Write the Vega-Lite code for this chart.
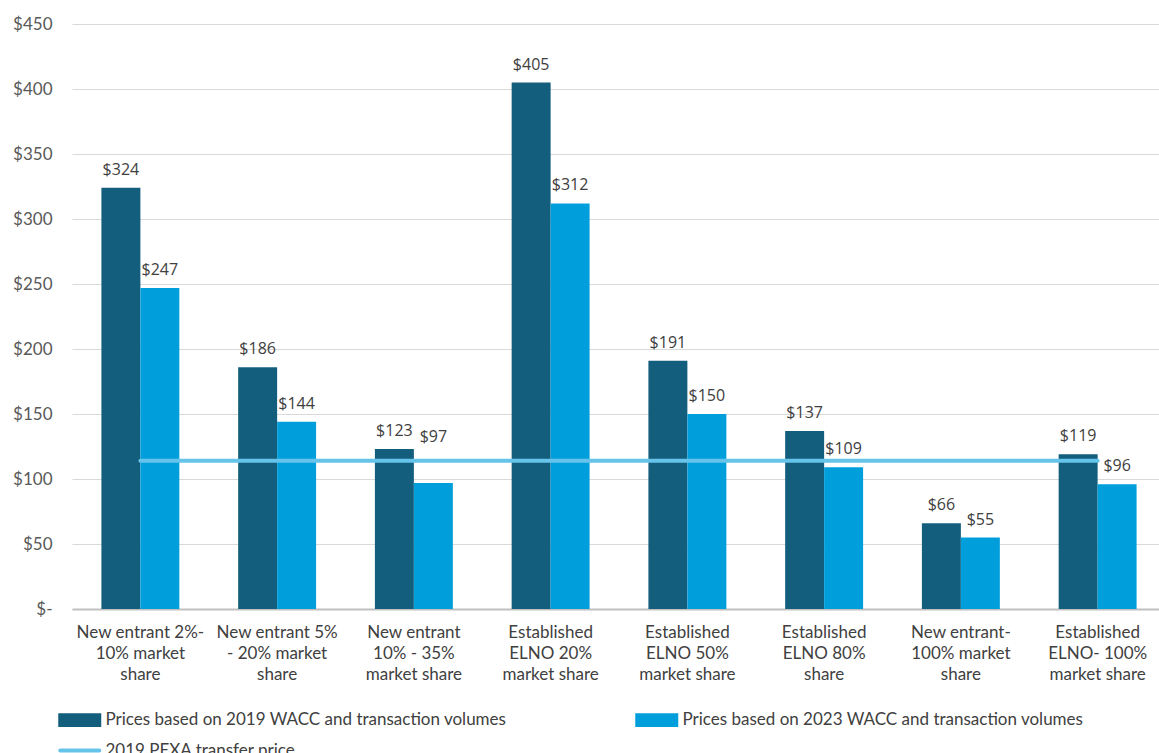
{
  "$schema": "https://vega.github.io/schema/vega-lite/v6.json",
  "autosize": {"type": "none"},
  "width": 1094,
  "height": 585,
  "padding": {"left": 72, "top": 24, "right": 0, "bottom": 144},
  "background": "white",
  "config": {"view": {"stroke": null}},
  "datasets": {
    "bars": [
      {"category": "New entrant 2%-\n10% market\nshare", "series": "Prices based on 2019 WACC and transaction volumes", "value": 324},
      {"category": "New entrant 2%-\n10% market\nshare", "series": "Prices based on 2023 WACC and transaction volumes", "value": 247},
      {"category": "New entrant 5%\n- 20% market\nshare", "series": "Prices based on 2019 WACC and transaction volumes", "value": 186},
      {"category": "New entrant 5%\n- 20% market\nshare", "series": "Prices based on 2023 WACC and transaction volumes", "value": 144},
      {"category": "New entrant\n10% - 35%\nmarket share", "series": "Prices based on 2019 WACC and transaction volumes", "value": 123},
      {"category": "New entrant\n10% - 35%\nmarket share", "series": "Prices based on 2023 WACC and transaction volumes", "value": 97},
      {"category": "Established\nELNO 20%\nmarket share", "series": "Prices based on 2019 WACC and transaction volumes", "value": 405},
      {"category": "Established\nELNO 20%\nmarket share", "series": "Prices based on 2023 WACC and transaction volumes", "value": 312},
      {"category": "Established\nELNO 50%\nmarket share", "series": "Prices based on 2019 WACC and transaction volumes", "value": 191},
      {"category": "Established\nELNO 50%\nmarket share", "series": "Prices based on 2023 WACC and transaction volumes", "value": 150},
      {"category": "Established\nELNO 80%\nshare", "series": "Prices based on 2019 WACC and transaction volumes", "value": 137},
      {"category": "Established\nELNO 80%\nshare", "series": "Prices based on 2023 WACC and transaction volumes", "value": 109},
      {"category": "New entrant-\n100% market\nshare", "series": "Prices based on 2019 WACC and transaction volumes", "value": 66},
      {"category": "New entrant-\n100% market\nshare", "series": "Prices based on 2023 WACC and transaction volumes", "value": 55},
      {"category": "Established\nELNO- 100%\nmarket share", "series": "Prices based on 2019 WACC and transaction volumes", "value": 119},
      {"category": "Established\nELNO- 100%\nmarket share", "series": "Prices based on 2023 WACC and transaction volumes", "value": 96}
    ],
    "pexa": [
      {"category": "New entrant 2%-\n10% market\nshare", "series": "2019 PEXA transfer price", "value": 114},
      {"category": "New entrant 5%\n- 20% market\nshare", "series": "2019 PEXA transfer price", "value": 114},
      {"category": "New entrant\n10% - 35%\nmarket share", "series": "2019 PEXA transfer price", "value": 114},
      {"category": "Established\nELNO 20%\nmarket share", "series": "2019 PEXA transfer price", "value": 114},
      {"category": "Established\nELNO 50%\nmarket share", "series": "2019 PEXA transfer price", "value": 114},
      {"category": "Established\nELNO 80%\nshare", "series": "2019 PEXA transfer price", "value": 114},
      {"category": "New entrant-\n100% market\nshare", "series": "2019 PEXA transfer price", "value": 114},
      {"category": "Established\nELNO- 100%\nmarket share", "series": "2019 PEXA transfer price", "value": 114}
    ]
  },
  "encoding": {
    "x": {
      "field": "category",
      "type": "nominal",
      "sort": null,
      "scale": {"paddingInner": 0.43, "paddingOuter": 0.215},
      "axis": {
        "title": null,
        "labelAngle": 0,
        "labelExpr": "split(datum.label, '\\n')",
        "labelFont": "Lato",
        "labelFontSize": 17,
        "labelColor": "#404040",
        "labelLineHeight": 21,
        "labelPadding": 15,
        "labelLimit": 0,
        "ticks": false,
        "domainColor": "#bfbfbf",
        "domainWidth": 2
      }
    },
    "y": {
      "field": "value",
      "type": "quantitative",
      "scale": {"domain": [0, 450], "nice": false},
      "axis": {
        "title": null,
        "values": [0, 50, 100, 150, 200, 250, 300, 350, 400, 450],
        "labelExpr": "datum.value == 0 ? '$-\u00a0\u00a0\u00a0' : '$' + datum.value",
        "labelFont": "Lato",
        "labelFontSize": 17,
        "labelColor": "#595959",
        "labelPadding": 20,
        "ticks": false,
        "domain": false,
        "grid": true,
        "gridColor": "#d9d9d9",
        "gridWidth": 1
      }
    }
  },
  "layer": [
    {
      "data": {"name": "bars"},
      "mark": {"type": "bar"},
      "encoding": {
        "xOffset": {"field": "series", "type": "nominal", "scale": {"paddingInner": 0, "paddingOuter": 0}},
        "color": {
          "field": "series",
          "type": "nominal",
          "scale": {
            "domain": ["Prices based on 2019 WACC and transaction volumes", "Prices based on 2023 WACC and transaction volumes", "2019 PEXA transfer price"],
            "range": ["#135e7d", "#009fdb", "#66c3ea"]
          },
          "legend": {
            "title": null,
            "orient": "none",
            "legendX": -14,
            "legendY": 684,
            "direction": "horizontal",
            "columns": 2,
            "columnPadding": 122,
            "rowPadding": 5.5,
            "padding": 0,
            "symbolSize": 380,
            "labelOffset": 23.5,
            "labelFont": "Lato",
            "labelFontSize": 17,
            "labelColor": "#404040",
            "labelLimit": 0,
            "encode": {
              "symbols": {
                "update": {
                  "shape": [
                    {"test": "datum.value === '2019 PEXA transfer price'", "value": "M-1,0H3"},
                    {"value": "M-1,-0.5H3V0.5H-1Z"}
                  ],
                  "fill": [
                    {"test": "datum.value === '2019 PEXA transfer price'", "value": "transparent"},
                    {"scale": "color", "field": "value"}
                  ],
                  "stroke": [
                    {"test": "datum.value === '2019 PEXA transfer price'", "scale": "color", "field": "value"},
                    {"value": "transparent"}
                  ],
                  "strokeWidth": {"value": 4},
                  "strokeCap": {"value": "round"},
                  "opacity": {"value": 1}
                }
              }
            }
          }
        }
      }
    },
    {
      "data": {"name": "bars"},
      "transform": [{"filter": "datum.value !== 97"}],
      "mark": {"type": "text", "baseline": "alphabetic", "dy": -13, "font": "Open Sans", "fontSize": 16, "color": "#404040"},
      "encoding": {
        "xOffset": {"field": "series", "type": "nominal"},
        "text": {"field": "value", "type": "quantitative", "format": "$.0f"}
      }
    },
    {
      "data": {"name": "bars"},
      "transform": [{"filter": "datum.value === 97"}],
      "mark": {"type": "text", "baseline": "alphabetic", "dy": -41, "font": "Open Sans", "fontSize": 16, "color": "#404040"},
      "encoding": {
        "xOffset": {"field": "series", "type": "nominal"},
        "text": {"field": "value", "type": "quantitative", "format": "$.0f"}
      }
    },
    {
      "data": {"name": "pexa"},
      "mark": {"type": "line", "strokeWidth": 4, "strokeCap": "round"},
      "encoding": {
        "color": {"field": "series", "type": "nominal"}
      }
    }
  ]
}
